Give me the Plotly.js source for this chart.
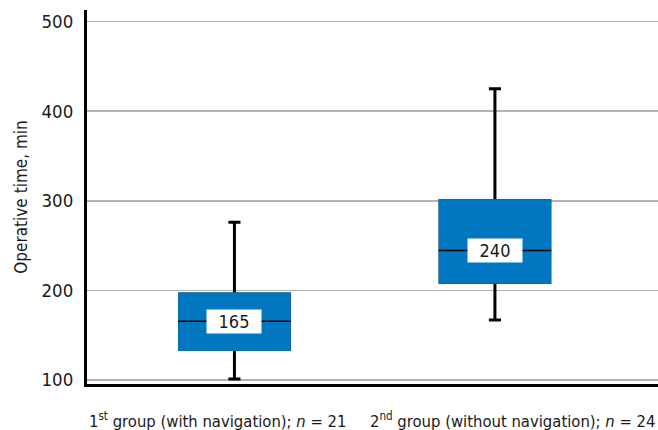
<!DOCTYPE html>
<html>
<head>
<meta charset="utf-8">
<script src="https://cdn.plot.ly/plotly-3.0.1.min.js"></script>
<style>html,body{margin:0;padding:0;background:#fff}#chart{width:658px;height:430px}</style>
</head>
<body>
<div id="chart"></div>
<script>
// ---- data ----
var categories = ["g1", "g2"];
var groupLabels = ["1<sup>st</sup> group (with navigation); <i>n</i> = 21",
                   "2<sup>nd</sup> group (without navigation); <i>n</i> = 24"];
var lowerWhisker = [101, 167];
var q1Values = [134, 209];
var medianValues = [165.5, 244.5];
var q3Values = [196, 300];
var upperWhisker = [276, 425];
var medianLabels = ["165", "240"];
var yTicks = [100, 200, 300, 400, 500];

var FONT = '"DejaVu Sans Condensed", "Liberation Sans Narrow", sans-serif';
var BLUE = '#0077c0';
var BOXW = 0.421;

var traces = [
  { // whiskers (black)
    type: 'box', x: categories, q1: q1Values, median: medianValues, q3: q3Values,
    lowerfence: lowerWhisker, upperfence: upperWhisker,
    width: BOXW, whiskerwidth: 0.11,
    line: {color: '#000', width: 3}, fillcolor: BLUE,
    hoverinfo: 'skip', showlegend: false
  },
  { // blue box body covering outline
    type: 'box', x: categories, q1: q1Values, median: medianValues, q3: q3Values,
    lowerfence: q1Values, upperfence: q3Values,
    width: BOXW, whiskerwidth: 0,
    line: {color: BLUE, width: 3}, fillcolor: BLUE,
    hoverinfo: 'skip', showlegend: false
  },
  { // median line (black)
    type: 'box', x: categories, q1: medianValues, median: medianValues, q3: medianValues,
    lowerfence: medianValues, upperfence: medianValues,
    width: BOXW + 0.011, whiskerwidth: 0,
    line: {color: '#000', width: 1.5}, fillcolor: 'rgba(0,0,0,0)',
    hoverinfo: 'skip', showlegend: false
  }
];

var annotations = categories.map(function (c, i) {
  return {
    x: c, y: medianValues[i], xref: 'x', yref: 'y', text: medianLabels[i],
    showarrow: false, bgcolor: '#ffffff', width: 54, height: 23, borderpad: 0,
    font: {family: FONT, size: 18, color: '#1a1a1a'}
  };
});
annotations.push({
  x: 0, y: 0, xref: 'paper', yref: 'paper', xanchor: 'left', yanchor: 'middle', yshift: -36,
  text: groupLabels[0], showarrow: false, font: {family: FONT, size: 16.5, color: '#1a1a1a'}
});
annotations.push({
  x: 1, y: 0, xref: 'paper', yref: 'paper', xanchor: 'right', yanchor: 'middle', yshift: -36,
  text: groupLabels[1], showarrow: false, font: {family: FONT, size: 16.5, color: '#1a1a1a'}
});

var layout = {
  width: 658, height: 430,
  margin: {l: 87, r: 0, t: 10, b: 46},
  paper_bgcolor: '#fff', plot_bgcolor: '#fff',
  boxmode: 'overlay',
  font: {family: FONT, color: '#1a1a1a'},
  xaxis: {
    type: 'category', range: [-0.566, 1.626], showticklabels: false,
    showgrid: false, zeroline: false, showline: true, linecolor: '#000', linewidth: 3,
    fixedrange: true
  },
  yaxis: {
    range: [95.5, 513], tickvals: yTicks, ticktext: yTicks.map(String),
    showgrid: true, gridcolor: '#b3b3b3', gridwidth: 1.5, zeroline: false,
    showline: true, linecolor: '#000', linewidth: 3, ticks: '', ticklabelstandoff: 7,
    tickfont: {family: FONT, size: 18.5, color: '#1a1a1a'},
    title: {text: 'Operative time, min', font: {family: FONT, size: 17, color: '#1a1a1a'}, standoff: 10},
    automargin: false, fixedrange: true
  },
  annotations: annotations
};

Plotly.newPlot('chart', traces, layout, {displayModeBar: false, staticPlot: true});
</script>
</body>
</html>
